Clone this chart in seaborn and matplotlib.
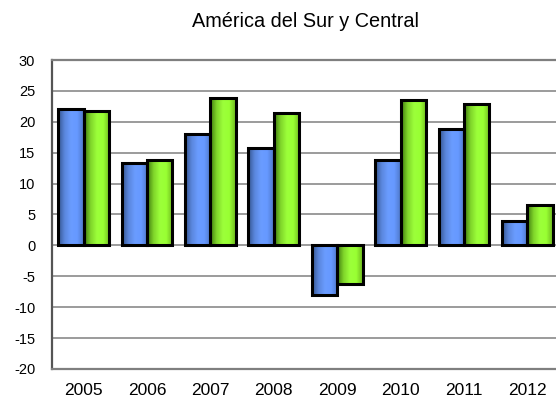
import numpy as np
import pandas as pd
import matplotlib
matplotlib.use("Agg")
import matplotlib.pyplot as plt
import seaborn as sns
from matplotlib.colors import LinearSegmentedColormap

years = ["2005", "2006", "2007", "2008", "2009", "2010", "2011", "2012"]
serie_a = [22.0, 13.4, 18.1, 15.8, -8.1, 13.8, 18.9, 4.0]
serie_b = [21.7, 13.8, 23.8, 21.4, -6.2, 23.6, 22.8, 6.6]
series_names = ["A", "B"]
colors = ["#6699FF", "#99FF33"]
yticks = [-20, -15, -10, -5, 0, 5, 10, 15, 20, 25, 30]

sns.set_theme(style="white")
plt.rcParams["font.family"] = ["Liberation Sans", "DejaVu Sans"]

df = pd.DataFrame({
    "year": years * 2,
    "value": serie_a + serie_b,
    "serie": [series_names[0]] * len(years) + [series_names[1]] * len(years),
})

fig = plt.figure(figsize=(5.56, 4.08), dpi=100)
ax = fig.add_axes([52 / 556, 39 / 408, 507 / 556, 309 / 408])

sns.barplot(data=df, x="year", y="value", hue="serie", palette=colors,
            width=0.8, edgecolor="black", linewidth=2.2, legend=False,
            ax=ax, zorder=3)

# gradient shading inside each bar
grads = {
    colors[0]: LinearSegmentedColormap.from_list("b", ["#34558f", "#5a86dc", "#6a9cff", "#6699ff", "#4f78c8"]),
    colors[1]: LinearSegmentedColormap.from_list("g", ["#3f7a0e", "#7fd42a", "#9cff3a", "#99ff33", "#6fb820"]),
}
grad_img = np.linspace(0, 1, 64).reshape(1, -1)
for i, cont in enumerate(ax.containers):
    cmap = grads[colors[i]]
    for p in cont.patches:
        x0, y0 = p.get_x(), p.get_y()
        w, h = p.get_width(), p.get_height()
        im = ax.imshow(grad_img, cmap=cmap, aspect="auto",
                       extent=[x0, x0 + w, min(y0, y0 + h), max(y0, y0 + h)],
                       zorder=3.5, interpolation="bilinear")
        im.set_clip_path(p)
        p.set_facecolor("none")
        p.set_zorder(4)

ax.set_xlim(-0.5, len(years) - 0.5)
ax.set_ylim(-20, 30)
ax.set_yticks(yticks)
ax.set_yticklabels([str(t) for t in yticks])
ax.yaxis.grid(True, color="#808080", linewidth=1.1, zorder=0)
ax.set_axisbelow(True)
ax.set_xlabel("")
ax.set_ylabel("")
ax.tick_params(axis="y", length=0, pad=12, labelsize=10.5, colors="black")
ax.tick_params(axis="x", length=0, pad=10, labelsize=12.5, colors="black")

for s in ["right"]:
    ax.spines[s].set_visible(False)
for s in ["left", "top", "bottom"]:
    ax.spines[s].set_color("#7f7f7f")
    ax.spines[s].set_linewidth(1.6)
ax.spines["left"].set_color("#555555")

ax.set_title("América del Sur y Central", fontsize=14.3, pad=23.5, color="black")

fig.savefig("out.png", dpi=100, facecolor="white")
